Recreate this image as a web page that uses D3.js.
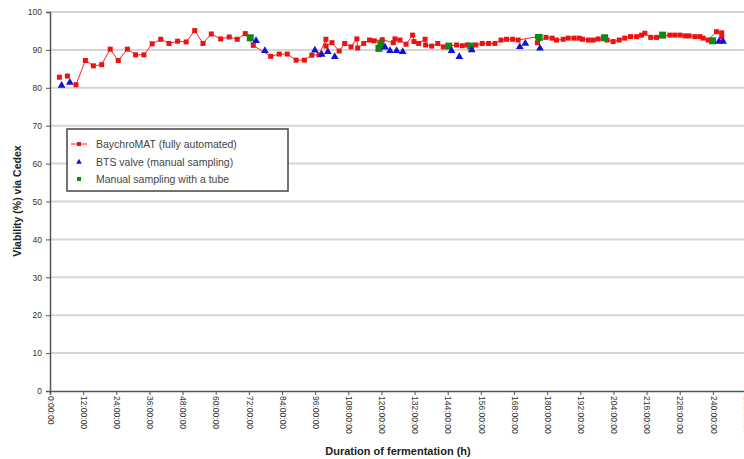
<!DOCTYPE html>
<html>
<head>
<meta charset="utf-8">
<script src="https://cdn.jsdelivr.net/npm/d3@7/dist/d3.min.js"></script>
<style>
  html, body { margin: 0; padding: 0; background: #fff; }
  svg { display: block; font-family: "Liberation Sans", Arial, sans-serif; }
</style>
</head>
<body>
<svg id="chart" width="744" height="459"></svg>
<script>
// BaychroMAT (fully automated) — hours and viability (%); null breaks the line
const autoHours = [3.4, null, 6.3, null, 9.4, 12.8, 15.7, 18.7, 21.8, 24.7, 28.0, 31.0, 34.0, 37.0, 40.1, 43.1, 46.2, 49.3, 52.4, 55.4,
  58.4, 61.8, 64.9, 67.8, 70.7, 73.6, 79.9, 83.0, 85.9, 89.1, 92.1, 94.8, 97.4, 99.9, 99.9, 102.1, 104.7, 106.7,
  109.0, 111.1, 111.4, 113.6, 115.7, 117.4, 120.3, 124.3, 124.9, 126.7, 128.9, 131.3, 131.8, 133.5, 135.8, 136.0,
  138.2, 140.4, 142.4, 147.2, 149.3, 151.1, 154.2, 156.5, 158.8, 161.1, 163.3, 165.3, 167.5, 169.5, 176.5, 176.5,
  179.6, 181.8, 183.4, 185.8, 187.6, 189.7, 191.6, 192.8, 194.9, 196.7, 198.5, 201.7, 203.9, 206.1, 208.1, 210.2,
  212.4, 214.2, 215.4, 217.5, 219.6, 224.4, 226.2, 228.1, 229.9, 231.4, 233.5, 235.3, 236.5, 238.3, 241.3, 243.2, 243.2];
const autoValues = [82.8, null, 83.1, null, 80.8, 87.2, 85.8, 86.1, 90.2, 87.2, 90.2, 88.7, 88.7, 91.6, 92.8, 91.7, 92.3, 92.1, 95.1, 91.7,
  94.2, 92.9, 93.4, 92.8, 94.3, 91.2, 88.3, 88.9, 88.9, 87.3, 87.3, 88.6, 88.7, 92.8, 91.0, 91.9, 89.7, 91.7,
  90.8, 92.9, 90.5, 91.7, 92.6, 92.4, 92.7, 91.9, 92.9, 92.6, 91.5, 93.9, 92.2, 91.7, 92.8, 91.3,
  91.0, 91.7, 90.8, 91.3, 91.1, 91.3, 91.3, 91.7, 91.7, 91.7, 92.6, 92.8, 92.8, 92.6, 93.5, 91.9,
  93.3, 93.1, 92.6, 92.8, 93.1, 93.1, 93.1, 92.8, 92.6, 92.6, 92.9, 92.6, 92.2, 92.6, 93.1, 93.5,
  93.5, 93.9, 94.4, 93.3, 93.3, 93.9, 93.9, 93.9, 93.7, 93.7, 93.5, 93.5, 93.1, 92.6, 94.8, 94.5, 93.4];

// BTS valve (manual sampling)
const btsHours = [4.2, 7.2, 74.6, 77.8, 95.9, 98.4, 100.6, 103.1, 121.3, 123.1, 125.5, 127.7, 145.4, 148.2, 152.7,
  170.1, 172.1, 177.4, 242.2, 243.7];
const btsValues = [80.6, 81.4, 92.4, 89.8, 89.9, 88.8, 89.5, 88.2, 90.7, 89.8, 89.8, 89.5, 89.8, 88.2, 90.0,
  90.8, 91.7, 90.4, 92.2, 92.2];

// Manual sampling with a tube
const tubeHours = [72.5, 119.1, 119.8, 144.4, 152.3, 177.1, 200.8, 221.8, 239.9];
const tubeValues = [93.2, 90.4, 91.6, 91.0, 91.0, 93.3, 93.2, 93.9, 92.4];

const yTicks = [0, 10, 20, 30, 40, 50, 60, 70, 80, 90, 100];
const xTicks = d3.range(0, 253, 12);
const legendLabels = ["BaychroMAT (fully automated)", "BTS valve (manual sampling)", "Manual sampling with a tube"];

const svg = d3.select("#chart");
const x = d3.scaleLinear().domain([0, 252]).range([50, 746]);
const y = d3.scaleLinear().domain([0, 100]).range([391, 12]);

// horizontal gridlines
svg.append("g").selectAll("line").data(yTicks.filter(t => t > 0)).join("line")
  .attr("x1", 50).attr("x2", 744)
  .attr("y1", d => y(d)).attr("y2", d => y(d))
  .attr("stroke", "#d6d6d6").attr("stroke-width", 2);

// y axis
const yAxis = svg.append("g").attr("transform", "translate(50,0)")
  .call(d3.axisLeft(y).tickValues(yTicks).tickSize(4).tickPadding(4));
yAxis.select(".domain").attr("stroke", "#555").attr("stroke-width", 1.5);
yAxis.selectAll(".tick line").attr("stroke", "#555");
yAxis.selectAll("text").attr("font-size", 8.5).attr("fill", "#333")
  .attr("font-family", "Liberation Sans, Arial, sans-serif");

// x axis with rotated hour labels
const xAxis = svg.append("g").attr("transform", "translate(0,391)")
  .call(d3.axisBottom(x).tickValues(xTicks).tickSize(4).tickFormat(d => d + ":00:00"));
xAxis.select(".domain").attr("stroke", "#555").attr("stroke-width", 1.5);
xAxis.selectAll(".tick line").attr("stroke", "#555");
xAxis.selectAll("text")
  .attr("font-size", 8.5).attr("fill", "#333")
  .attr("font-family", "Liberation Sans, Arial, sans-serif")
  .attr("text-anchor", "start")
  .attr("dy", "0.32em")
  .attr("transform", "translate(0,1) rotate(90)")
  .attr("x", 4).attr("y", 0);

// automated series: line + square markers
const autoPts = autoHours.map((h, i) => ({ h, v: autoValues[i] }));
const line = d3.line().defined(d => d.v != null && d.h != null).x(d => x(d.h)).y(d => y(d.v));
svg.append("path").datum(autoPts).attr("d", line)
  .attr("fill", "none").attr("stroke", "#ff2020").attr("stroke-width", 1);
svg.append("g").selectAll("rect").data(autoPts.filter(d => d.v != null)).join("rect")
  .attr("x", d => x(d.h) - 2.5).attr("y", d => y(d.v) - 2.5)
  .attr("width", 5).attr("height", 5).attr("fill", "#ee1111");

// tube samples: green squares
svg.append("g").selectAll("rect").data(tubeHours.map((h, i) => ({ h, v: tubeValues[i] }))).join("rect")
  .attr("x", d => x(d.h) - 3.5).attr("y", d => y(d.v) - 3.5)
  .attr("width", 7).attr("height", 7).attr("fill", "#118811");

// BTS valve samples: blue triangles
const tri = d3.symbol().type(d3.symbolTriangle).size(26);
svg.append("g").selectAll("path").data(btsHours.map((h, i) => ({ h, v: btsValues[i] }))).join("path")
  .attr("d", tri).attr("transform", d => `translate(${x(d.h)},${y(d.v)})`)
  .attr("fill", "#1010dd");

// legend
const lg = svg.append("g").attr("transform", "translate(67,129)");
lg.append("rect").attr("width", 221).attr("height", 62)
  .attr("fill", "#fff").attr("stroke", "#444").attr("stroke-width", 1.5);
const rowY = [15, 33, 50];
lg.append("line").attr("x1", 4).attr("x2", 20).attr("y1", rowY[0]).attr("y2", rowY[0])
  .attr("stroke", "#ff2020").attr("stroke-width", 1);
lg.append("rect").attr("x", 10).attr("y", rowY[0] - 2).attr("width", 4).attr("height", 4).attr("fill", "#ee1111");
lg.append("path").attr("d", d3.symbol().type(d3.symbolTriangle).size(14))
  .attr("transform", `translate(12,${rowY[1]})`).attr("fill", "#1010dd");
lg.append("rect").attr("x", 10).attr("y", rowY[2] - 2).attr("width", 4).attr("height", 4).attr("fill", "#118811");
lg.selectAll("text.lbl").data(legendLabels).join("text").attr("class", "lbl")
  .attr("x", 29).attr("y", (d, i) => rowY[i]).attr("dy", "0.35em")
  .attr("font-size", 10.5).attr("fill", "#444").text(d => d);

// axis titles
svg.append("text").attr("transform", "translate(21,201) rotate(-90)")
  .attr("text-anchor", "middle").attr("font-size", 10.5).attr("font-weight", "bold").attr("fill", "#222")
  .text("Viability (%) via Cedex");
svg.append("text").attr("x", 398).attr("y", 455)
  .attr("text-anchor", "middle").attr("font-size", 11).attr("font-weight", "bold").attr("fill", "#222")
  .text("Duration of fermentation (h)");
</script>
</body>
</html>
